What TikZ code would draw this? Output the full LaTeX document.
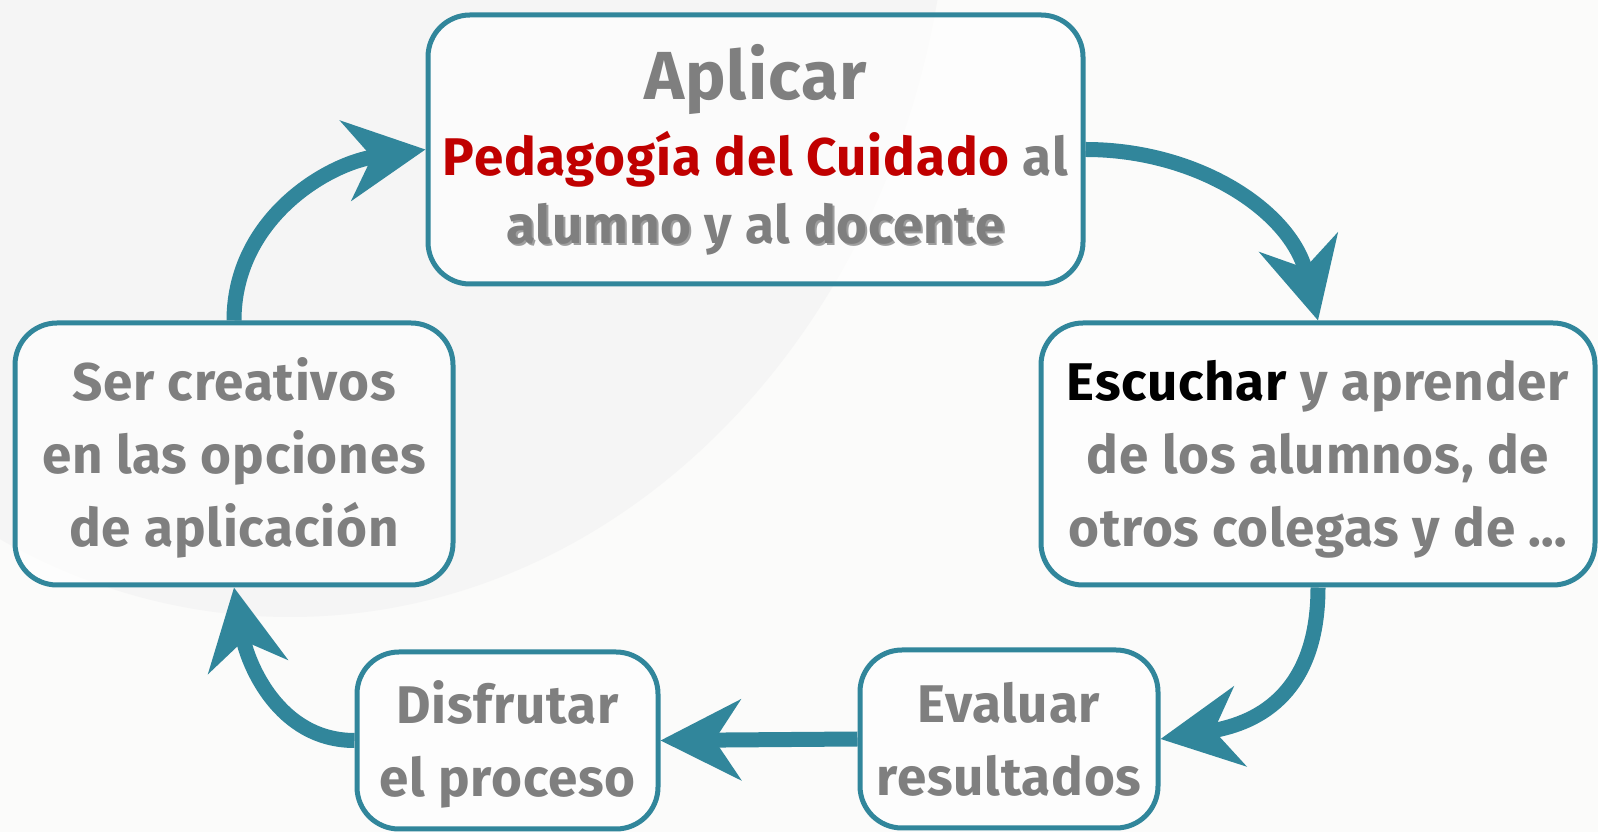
\documentclass[tikz,border=0pt]{standalone}
\usepackage{fontspec}
\setmainfont{Fira Sans}[BoldFeatures={LetterSpace=1.5}]
\usetikzlibrary{arrows.meta}
\definecolor{cycleteal}{RGB}{49,134,155}
\definecolor{textgray}{RGB}{127,127,127}
\definecolor{carered}{RGB}{192,0,0}
\definecolor{bggray}{RGB}{251,251,250}
\newcommand{\shadowed}[1]{\rlap{\kern2pt\raisebox{-2pt}{\color{black!38}#1}}#1}
\newcommand{\topstrut}{\rule{0pt}{51pt}}
\tikzstyle{cyclebox} = [rectangle, rounded corners=42pt, draw=cycleteal, line width=5pt, fill=white, fill opacity=0.6, text opacity=1, align=center, inner sep=0pt, text=textgray, font=\bfseries\fontsize{53}{73}\selectfont]
\tikzstyle{arrow} = [line width=15pt, draw=cycleteal, -{Stealth[length=80pt, width=80pt, inset=26pt]}]

\begin{document}
\begin{tikzpicture}[x=1pt, y=1pt]
  \useasboundingbox (0,0) rectangle (1598,832);
  \fill [bggray] (0,0) rectangle (1598,832);
  \fill [black!4] (290,982) ellipse [x radius=660, y radius=767];

  % boxes
  \node (aplicar) [cyclebox, minimum width=655pt, minimum height=269pt] at (755.5,682.5) {{\fontsize{68}{76}\selectfont Aplicar}\\[3pt] {\color{carered}Pedagogía del Cuidado} al\\[-5pt] \shadowed{alumno} y al \shadowed{docente}};
  \node (escuchar) [cyclebox, minimum width=554pt, minimum height=262pt] at (1318,378) {\topstrut{\color{black}Escuchar} y aprender\\ de los alumnos, de\\ otros colegas y de …};
  \node (evaluar) [cyclebox, minimum width=298pt, minimum height=178pt] at (1009,93) {Evaluar\\ resultados};
  \node (disfrutar) [cyclebox, minimum width=301pt, minimum height=177pt] at (507.5,91.5) {\topstrut Disfrutar\\ el proceso};
  \node (creativos) [cyclebox, minimum width=438pt, minimum height=262pt] at (234,378) {\topstrut Ser creativos\\ en las opciones\\ de aplicación};

  % connectors
  \draw [arrow] (aplicar.east) to [out=0, in=104] (escuchar.north);
  \draw [arrow] (escuchar.south) to [out=-90, in=9, looseness=1.2] (evaluar.east);
  \draw [arrow] (evaluar.west) -- (disfrutar.east);
  \draw [arrow] (disfrutar.west) to [out=180, in=280] (creativos.south);
  \draw [arrow] (creativos.north) to [out=90, in=188] (aplicar.west);
\end{tikzpicture}
\end{document}
